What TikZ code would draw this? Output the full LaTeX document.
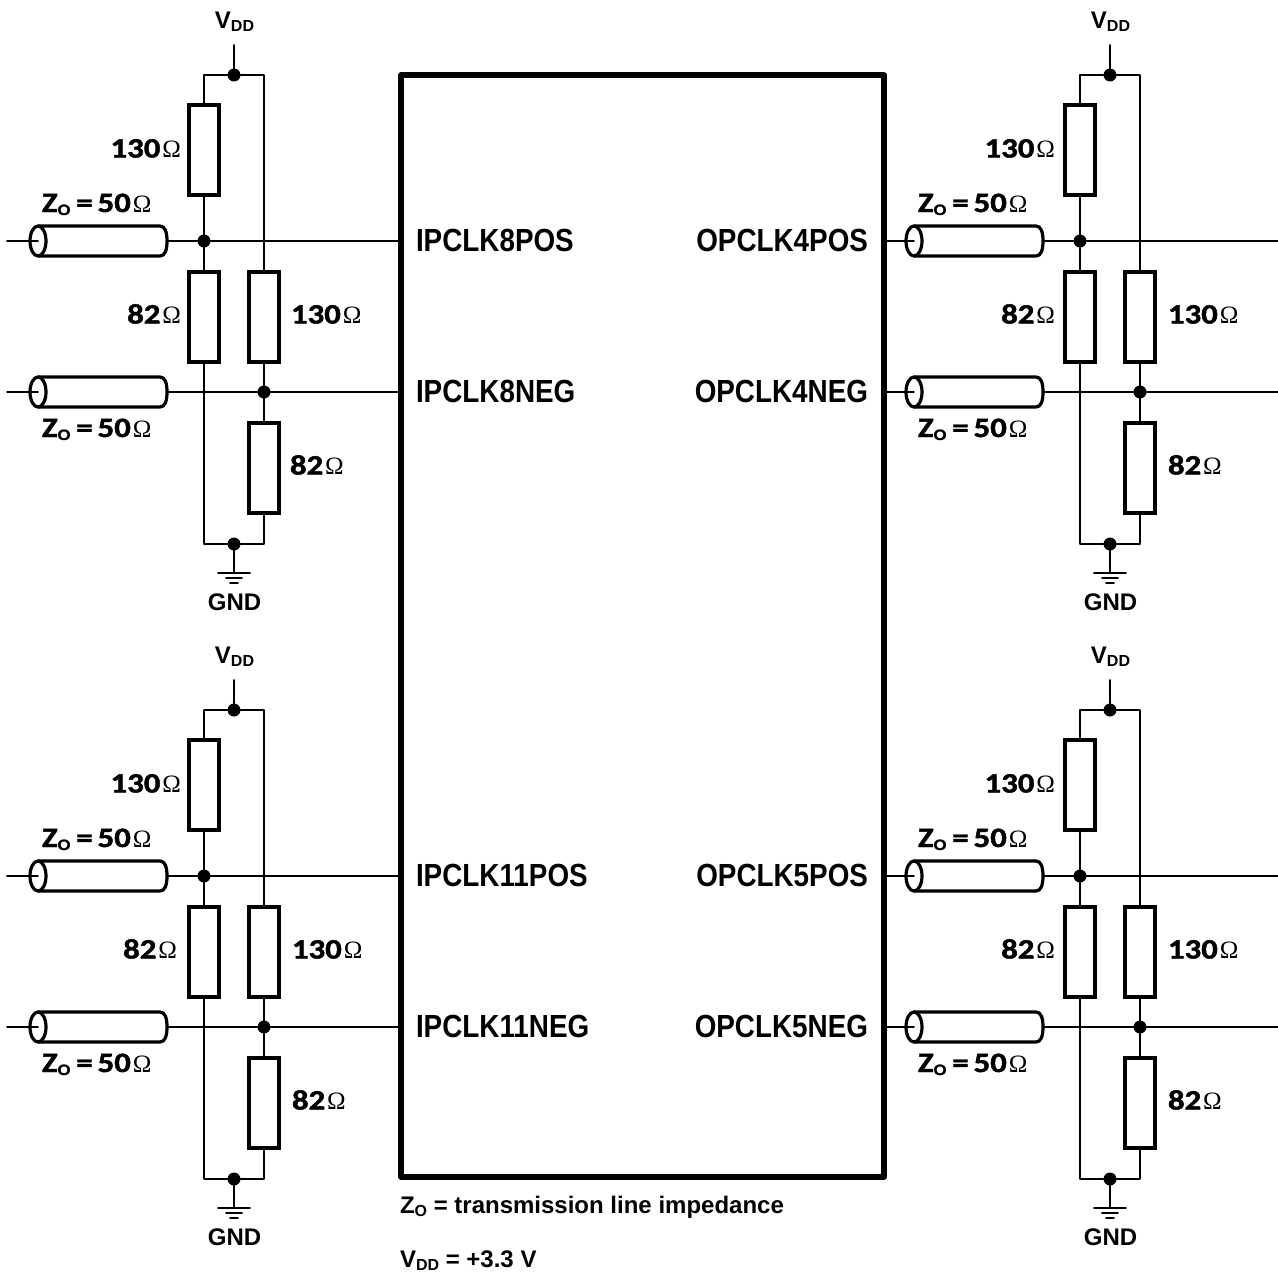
\documentclass[tikz,border=0pt]{standalone}
\usepackage{fontspec}
\usetikzlibrary{shapes.geometric}
\setmainfont[BoldFeatures={FakeStretch=1.17,FakeBold=1.6}]{Carlito}
\newfontfamily\notefont{Liberation Sans}
\newfontfamily\labfont[BoldFeatures={FakeStretch=0.87}]{Liberation Sans}
\newfontfamily\omfont{Liberation Serif}
\newcommand{\ohm}{\kern2pt{\fontsize{25}{25}\omfont\mdseries\selectfont Ω}}
\newcommand{\sbs}[1]{{\fontsize{16}{16}\selectfont\raisebox{-3pt}{#1}}}
\newcommand{\zl}{Z\sbs{O}\kern6pt=\kern5pt50\ohm}
\newcommand{\vl}{V\sbs{DD}}
\tikzset{
 x=1pt,y=-1pt,
 wire/.style={line width=1.9pt,line cap=round,line join=round},
 res/.style={draw,rectangle,line width=3.2pt,minimum width=30pt,minimum height=90pt,inner sep=0pt,outer sep=0pt,fill=white},
 dot/.style={circle,fill=black,inner sep=0pt,minimum size=13pt,outer sep=0pt},
 cablebox/.style={rectangle,minimum width=129pt,minimum height=30pt,inner sep=0pt,outer sep=0pt},
 cableend/.style={draw,ellipse,line width=3.2pt,minimum width=16pt,minimum height=30pt,inner sep=0pt,outer sep=0pt,fill=white},
 chipbox/.style={draw,rectangle,line width=5.5pt,minimum width=483pt,minimum height=1102pt,inner sep=0pt,outer sep=0pt,line join=round},
 lab/.style={font=\labfont\fontsize{32}{33}\bfseries\selectfont,inner sep=0pt,outer sep=0pt},
 val/.style={font=\fontsize{28}{30}\bfseries\selectfont,inner sep=0pt,outer sep=0pt},
 rail/.style={font=\notefont\fontsize{24}{26}\bfseries\selectfont,inner sep=0pt,outer sep=0pt},
 note/.style={font=\notefont\fontsize{24}{26}\bfseries\selectfont,inner sep=0pt,outer sep=0pt},
}
\newcommand{\cablepart}[3]{%
 \node[cablebox] (#1) at (#2,#3) {};
 \path[draw,fill=white,line width=3.2pt,line join=round] (#1.north west) -- ([xshift=-7pt]#1.north east)
   .. controls ([xshift=-2pt]#1.north east) and ([yshift=9pt]#1.east) .. (#1.east)
   .. controls ([yshift=-9pt]#1.east) and ([xshift=-2pt]#1.south east) .. ([xshift=-7pt]#1.south east) -- (#1.south west);
 \node[cableend] (#1e) at (#1.west) {};
}
\newcommand{\ckt}[9]{%
 \begin{scope}[shift={(#2,#3)}]
 \node[res] (#1ra) at (204,150) {};
 \node[res] (#1rb) at (204,317) {};
 \node[res] (#1rc) at (264,317) {};
 \node[res] (#1rd) at (264,468) {};
 \node[dot] (#1top) at (234,75) {};
 \node[dot] (#1bot) at (234,544) {};
 \node[dot] (#1ja) at (204,241) {};
 \node[dot] (#1jb) at (264,392) {};
 \coordinate (#1vs) at (234,45);
 \coordinate (#1gs) at (234,573);
 \coordinate (#1sa) at (#4,241);
 \coordinate (#1sb) at (#4,392);
 \coordinate (#1fa) at (#5,241);
 \coordinate (#1fb) at (#5,392);
 \cablepart{#1ca}{102.5}{241}
 \cablepart{#1cb}{102.5}{392}
 \draw[wire] (#1vs) -- (#1top.north);
 \draw[wire] (#1top.west) -| (#1ra.north);
 \draw[wire] (#1top.east) -| (#1rc.north);
 \draw[wire] (#1ra.south) -- (#1ja.north);
 \draw[wire] (#1ja.south) -- (#1rb.north);
 \draw[wire] (#1rb.south) |- (#1bot.west);
 \draw[wire] (#1rc.south) -- (#1jb.north);
 \draw[wire] (#1jb.south) -- (#1rd.north);
 \draw[wire] (#1rd.south) |- (#1bot.east);
 \draw[wire] (#1bot.south) -- (#1gs);
 \draw[wire] (#1sa) -- (#1cae.center);
 \draw[wire] (#1sb) -- (#1cbe.center);
 \draw[wire] (#1ca.east) -- (#1ja.west);
 \draw[wire] (#1ja.east) -- (#1fa);
 \draw[wire] (#1cb.east) -- (#1jb.west);
 \draw[wire] (#1jb.east) -- (#1fb);
 \draw[wire] ([xshift=-16pt]#1gs) -- ([xshift=16pt]#1gs);
 \draw[wire] ([xshift=-8pt,yshift=-5pt]#1gs) -- ([xshift=8pt,yshift=-5pt]#1gs);
 \draw[wire] ([xshift=-4pt,yshift=-10pt]#1gs) -- ([xshift=4pt,yshift=-10pt]#1gs);
 \node[rail,anchor=base] (#1vdd) at (234.5,28.5) {\vl};
 \node[rail,anchor=base] (#1gnd) at (234.5,610) {GND};
 \node[val,anchor=base east] (#1la) at (#6,157.5) {130\ohm};
 \node[val,anchor=base east] (#1lb) at (#7,323.5) {82\ohm};
 \node[val,anchor=base west] (#1lc) at (#8,323.5) {130\ohm};
 \node[val,anchor=base west] (#1ld) at (#9,474.5) {82\ohm};
 \node[val,anchor=base west] (#1za) at (42,212) {\zl};
 \node[val,anchor=base west] (#1zb) at (42,437) {\zl};
 \end{scope}
}
\begin{document}
\begin{tikzpicture}
\useasboundingbox (0,0) rectangle (1278,1275);
\node[chipbox] (chip) at (642.5,626) {};
\ckt{tl}{0}{0}{7}{400}{181}{181}{291}{290}
\ckt{tr}{876}{0}{9}{402}{179}{179}{292}{292}
\ckt{bl}{0}{635}{7}{400}{181}{177}{292}{292}
\ckt{br}{876}{635}{9}{402}{179}{179}{292}{292}
\node[lab,anchor=base west] (p1) at (416,251.5) {IPCLK8POS};
\node[lab,anchor=base west] (p2) at (416,402.5) {IPCLK8NEG};
\node[lab,anchor=base west] (p3) at (416,886.5) {IPCLK11POS};
\node[lab,anchor=base west] (p4) at (416,1037.5) {IPCLK11NEG};
\node[lab,anchor=base east] (q1) at (868,251.5) {OPCLK4POS};
\node[lab,anchor=base east] (q2) at (868,402.5) {OPCLK4NEG};
\node[lab,anchor=base east] (q3) at (868,886.5) {OPCLK5POS};
\node[lab,anchor=base east] (q4) at (868,1037.5) {OPCLK5NEG};
\node[note,anchor=base west] (n1) at (400,1213.5) {Z\sbs{O} = transmission line impedance};
\node[note,anchor=base west] (n2) at (400,1267) {V\sbs{DD} = +3.3 V};
\end{tikzpicture}
\end{document}
